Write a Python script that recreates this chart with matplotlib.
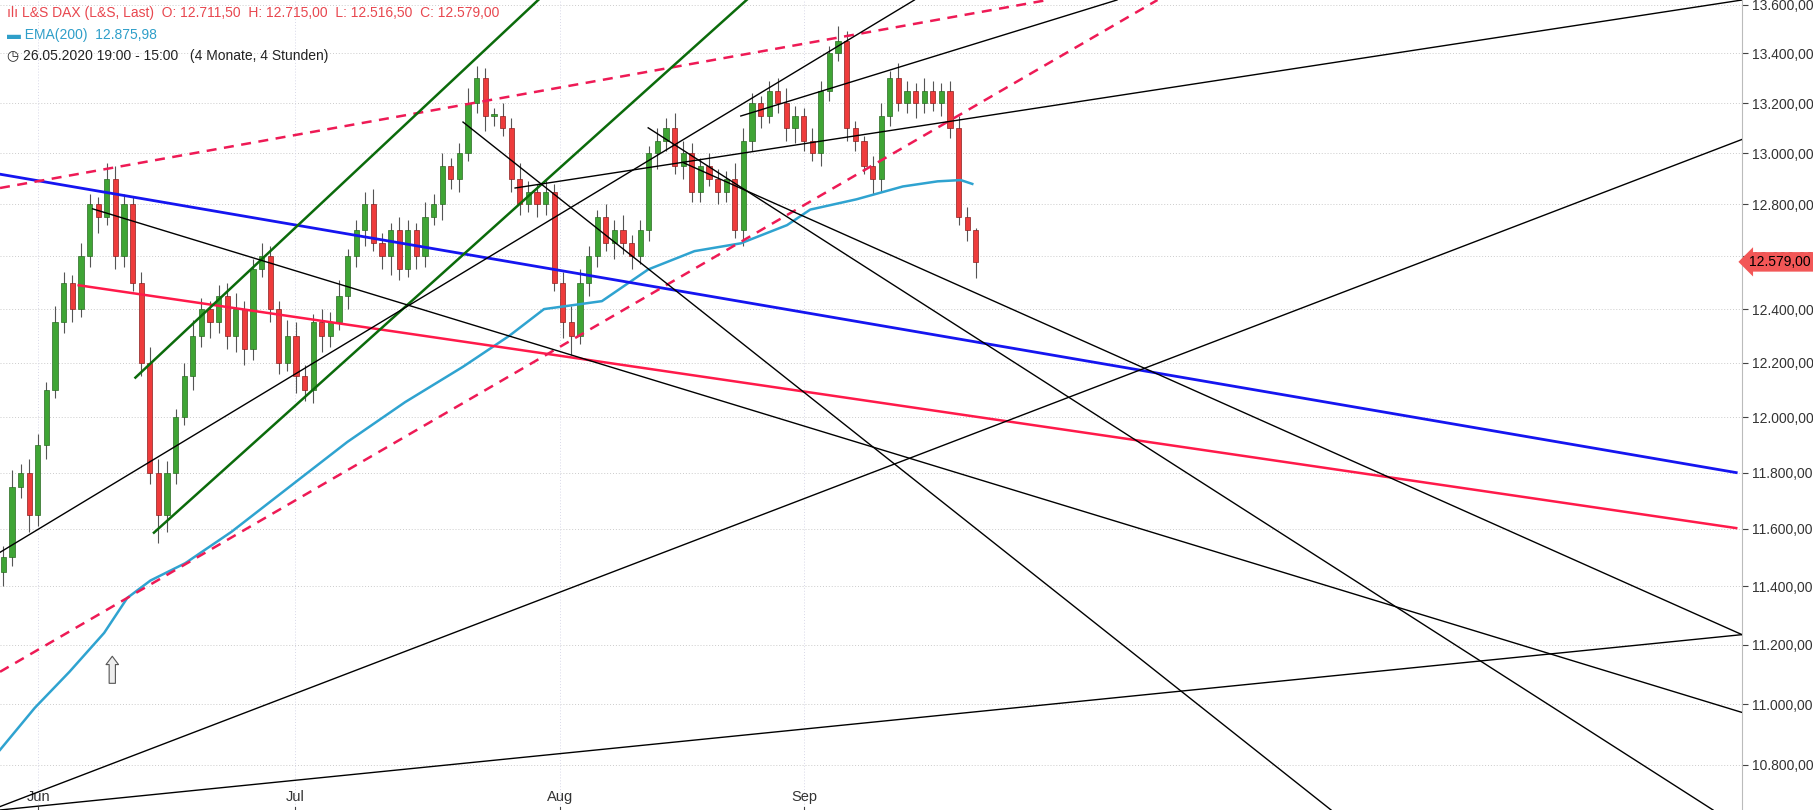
import matplotlib.pyplot as plt
import numpy as np
from matplotlib.ticker import FixedLocator, NullFormatter, NullLocator

# 4h candles (open = previous close)
CLOSES = [11500, 11750, 11800, 11650, 11900, 12100, 12350, 12500, 12400, 12600,
          12800, 12750, 12900, 12600, 12800, 12500, 12200, 11800, 11650, 11800,
          12000, 12150, 12300, 12400, 12350, 12450, 12300, 12400, 12250, 12550,
          12600, 12400, 12200, 12300, 12150, 12100, 12350, 12300, 12350, 12450,
          12600, 12700, 12800, 12650, 12600, 12700, 12550, 12700, 12600, 12750,
          12800, 12950, 12900, 13000, 13200, 13300, 13150, 13150, 13100, 12900,
          12800, 12850, 12800, 12850, 12500, 12350, 12300, 12500, 12600, 12750,
          12650, 12700, 12650, 12600, 12700, 13000, 13050, 13100, 12950, 13000,
          12850, 12950, 12900, 12850, 12900, 12700, 13050, 13200, 13150, 13250,
          13200, 13100, 13150, 13050, 13000, 13250, 13400, 13450, 13100, 13050,
          12950, 12900, 13150, 13300, 13200, 13250, 13200, 13250, 13200, 13250,
          13100, 12750, 12700, 12579]
FIRST_OPEN = 11450
WICK_UP = [40, 60, 30, 50, 40, 30, 60, 40, 30, 50, 40, 30, 60, 50, 40, 30, 40, 60, 50, 40,
           30, 50, 60, 40, 30, 40, 50, 60, 30, 40, 50, 40, 30, 60, 50, 40, 30, 50, 40, 60,
           30, 40, 50, 60, 40, 30, 50, 40, 30, 60, 40, 50, 30, 40, 60, 50, 40, 30, 50, 40,
           60, 40, 30, 50, 30, 40, 60, 50, 40, 30, 50, 40, 60, 30, 40, 30, 50, 40, 60, 50,
           40, 30, 50, 40, 30, 60, 50, 40, 30, 40, 50, 60, 40, 30, 50, 40, 30, 60, 40, 30,
           20, 40, 50, 30, 60, 40, 30, 50, 40, 30, 40, 50, 40, 10]
WICK_DN = [50, 30, 40, 60, 40, 50, 30, 40, 50, 30, 40, 60, 30, 50, 40, 30, 50, 40, 100, 60,
           40, 30, 50, 40, 60, 40, 50, 60, 60, 40, 30, 50, 40, 30, 60, 40, 50, 60, 40, 30,
           50, 40, 60, 30, 50, 70, 40, 30, 50, 40, 30, 60, 40, 50, 30, 40, 60, 40, 30, 50,
           40, 30, 50, 40, 30, 60, 70, 30, 50, 40, 30, 60, 40, 50, 30, 40, 60, 40, 30, 50,
           40, 40, 30, 50, 40, 30, 60, 40, 50, 30, 40, 50, 60, 40, 30, 50, 40, 30, 50, 40,
           30, 60, 50, 40, 30, 40, 60, 40, 30, 50, 40, 30, 40, 60]

EMA_X = [0, 3, 6, 9, 11, 13, 16, 20, 25.5, 30, 35, 40, 44, 47, 52, 56, 60, 64, 68, 70, 74, 78, 81, 83, 84]
EMA_Y = [10848, 10987, 11108, 11240, 11360, 11420, 11480, 11590, 11765, 11910, 12055, 12185,
         12300, 12400, 12430, 12550, 12620, 12650, 12720, 12780, 12820, 12870, 12890, 12895, 12880]

# trend lines: (x0, p0, x1, p1)
BLUE_LINE = (0, 12918, 150, 11800)
RED_LINE = (6.8, 12490, 150, 11603)
RED_DASH = [(0, 11108, 100, 13619), (0, 12864, 90.5, 13619)]
GREEN = [(11.7, 12145, 46.5, 13619), (13.3, 11587, 64.5, 13619)]
BLACK = [(0, 11518, 79, 13619), (0, 10663, 150.5, 13055), (0, 10652, 150.5, 11234),
         (8, 12783, 150.5, 10972), (40, 13124, 115, 10652), (56, 13101, 148, 10652),
         (59, 12964, 150.5, 11234), (44.5, 12864, 150.5, 13619), (64, 13148, 96.5, 13619)]

MONTHS = ["Jun", "Jul", "Aug", "Sep"]
MONTH_X = [3.3, 25.5, 48.4, 69.5]
PRICE_TICKS = list(range(10800, 13601, 200))

UP, DOWN = "#3fa535", "#ee3b3b"
FONT = ["Liberation Sans", "DejaVu Sans"]

fig = plt.figure(figsize=(18.13, 8.10), dpi=100)
ax = fig.add_axes([0, 0, 1742 / 1813, 1])
ax.set_yscale("log")
ax.set_xlim(0, 150.5)
ax.set_ylim(10652, 13619)

n = len(CLOSES)
xs = np.linspace(0.3, 84.3, n)
opens = [FIRST_OPEN] + CLOSES[:-1]
for x, o, c, wu, wd in zip(xs, opens, CLOSES, WICK_UP, WICK_DN):
    col = UP if c >= o else DOWN
    ax.vlines(x, min(o, c) - wd, max(o, c) + wu, color="#555555", lw=0.8, zorder=3)
    ax.bar(x, abs(c - o) or 8, bottom=min(o, c), width=0.45, color=col,
           edgecolor="#8a1f1f" if col == DOWN else "#2a6a22", lw=0.5, zorder=4)

ax.plot(EMA_X, EMA_Y, color="#2fa3d0", lw=1.8, zorder=5)


def seg(line, **kw):
    x0, p0, x1, p1 = line
    ax.plot([x0, x1], [p0, p1], zorder=6, **kw)


seg(BLUE_LINE, color="#1515f0", lw=2)
seg(RED_LINE, color="#ff1a4a", lw=1.8)
for l in RED_DASH:
    seg(l, color="#ee1a55", lw=1.8, ls=(0, (4, 3)))
for l in GREEN:
    seg(l, color="#0b6b0b", lw=1.8)
for l in BLACK:
    seg(l, color="black", lw=1.0)

# grid
for p in PRICE_TICKS:
    ax.axhline(p, color="#cccccc", lw=0.7, ls=(0, (1, 2)), zorder=0)
for mx in MONTH_X:
    ax.axvline(mx, color="#d8d8e8", lw=0.7, ls=(0, (1, 2)), zorder=0)
ax.xaxis.set_major_locator(NullLocator())
for mx, m in zip(MONTH_X, MONTHS):
    ax.text(mx, 10672, m, ha="center", va="bottom", fontsize=10.5, color="#333333", family=FONT)
    ax.plot([mx, mx], [10652, 10662], color="#444444", lw=0.8)

for s in ["top", "left", "bottom"]:
    ax.spines[s].set_visible(False)
ax.spines["right"].set_color("#bbbbbb")
ax.yaxis.tick_right()
ax.yaxis.set_major_locator(FixedLocator(PRICE_TICKS))
ax.yaxis.set_minor_locator(NullLocator())
ax.yaxis.set_minor_formatter(NullFormatter())
ax.set_yticklabels([f"{p:,}".replace(",", ".") + ",00" for p in PRICE_TICKS],
                   fontsize=10, color="#333333", family=FONT)
ax.tick_params(axis="y", length=4, color="#444444", pad=3)

# last price tag
ax.text(1.004, 12579, "12.579,00", transform=ax.get_yaxis_transform(), ha="left", va="center",
        fontsize=10, color="black", family=FONT, clip_on=False, zorder=10,
        bbox=dict(boxstyle="larrow,pad=0.2", fc="#f25757", ec="none"))

# header
hdr = dict(transform=ax.transAxes, fontsize=10, family=FONT, va="top")
ax.text(0.004, 0.993, "ılı L&S DAX (L&S, Last)  O: 12.711,50  H: 12.715,00  L: 12.516,50  C: 12.579,00",
        color="#e8474f", **hdr)
ax.text(0.004, 0.966, "▬ EMA(200)  12.875,98", color="#2f9fc9", **hdr)
ax.text(0.004, 0.939, "◷ 26.05.2020 19:00 - 15:00   (4 Monate, 4 Stunden)", color="#222222", **hdr)

# arrow marker
ax.annotate("", xy=(9.7, 11170), xytext=(9.7, 11060),
            arrowprops=dict(arrowstyle="simple,head_width=0.9,tail_width=0.45,head_length=0.6",
                            fc="#eeeeee", ec="#555555", lw=0.8), zorder=7)

fig.savefig("out.png", dpi=100)
